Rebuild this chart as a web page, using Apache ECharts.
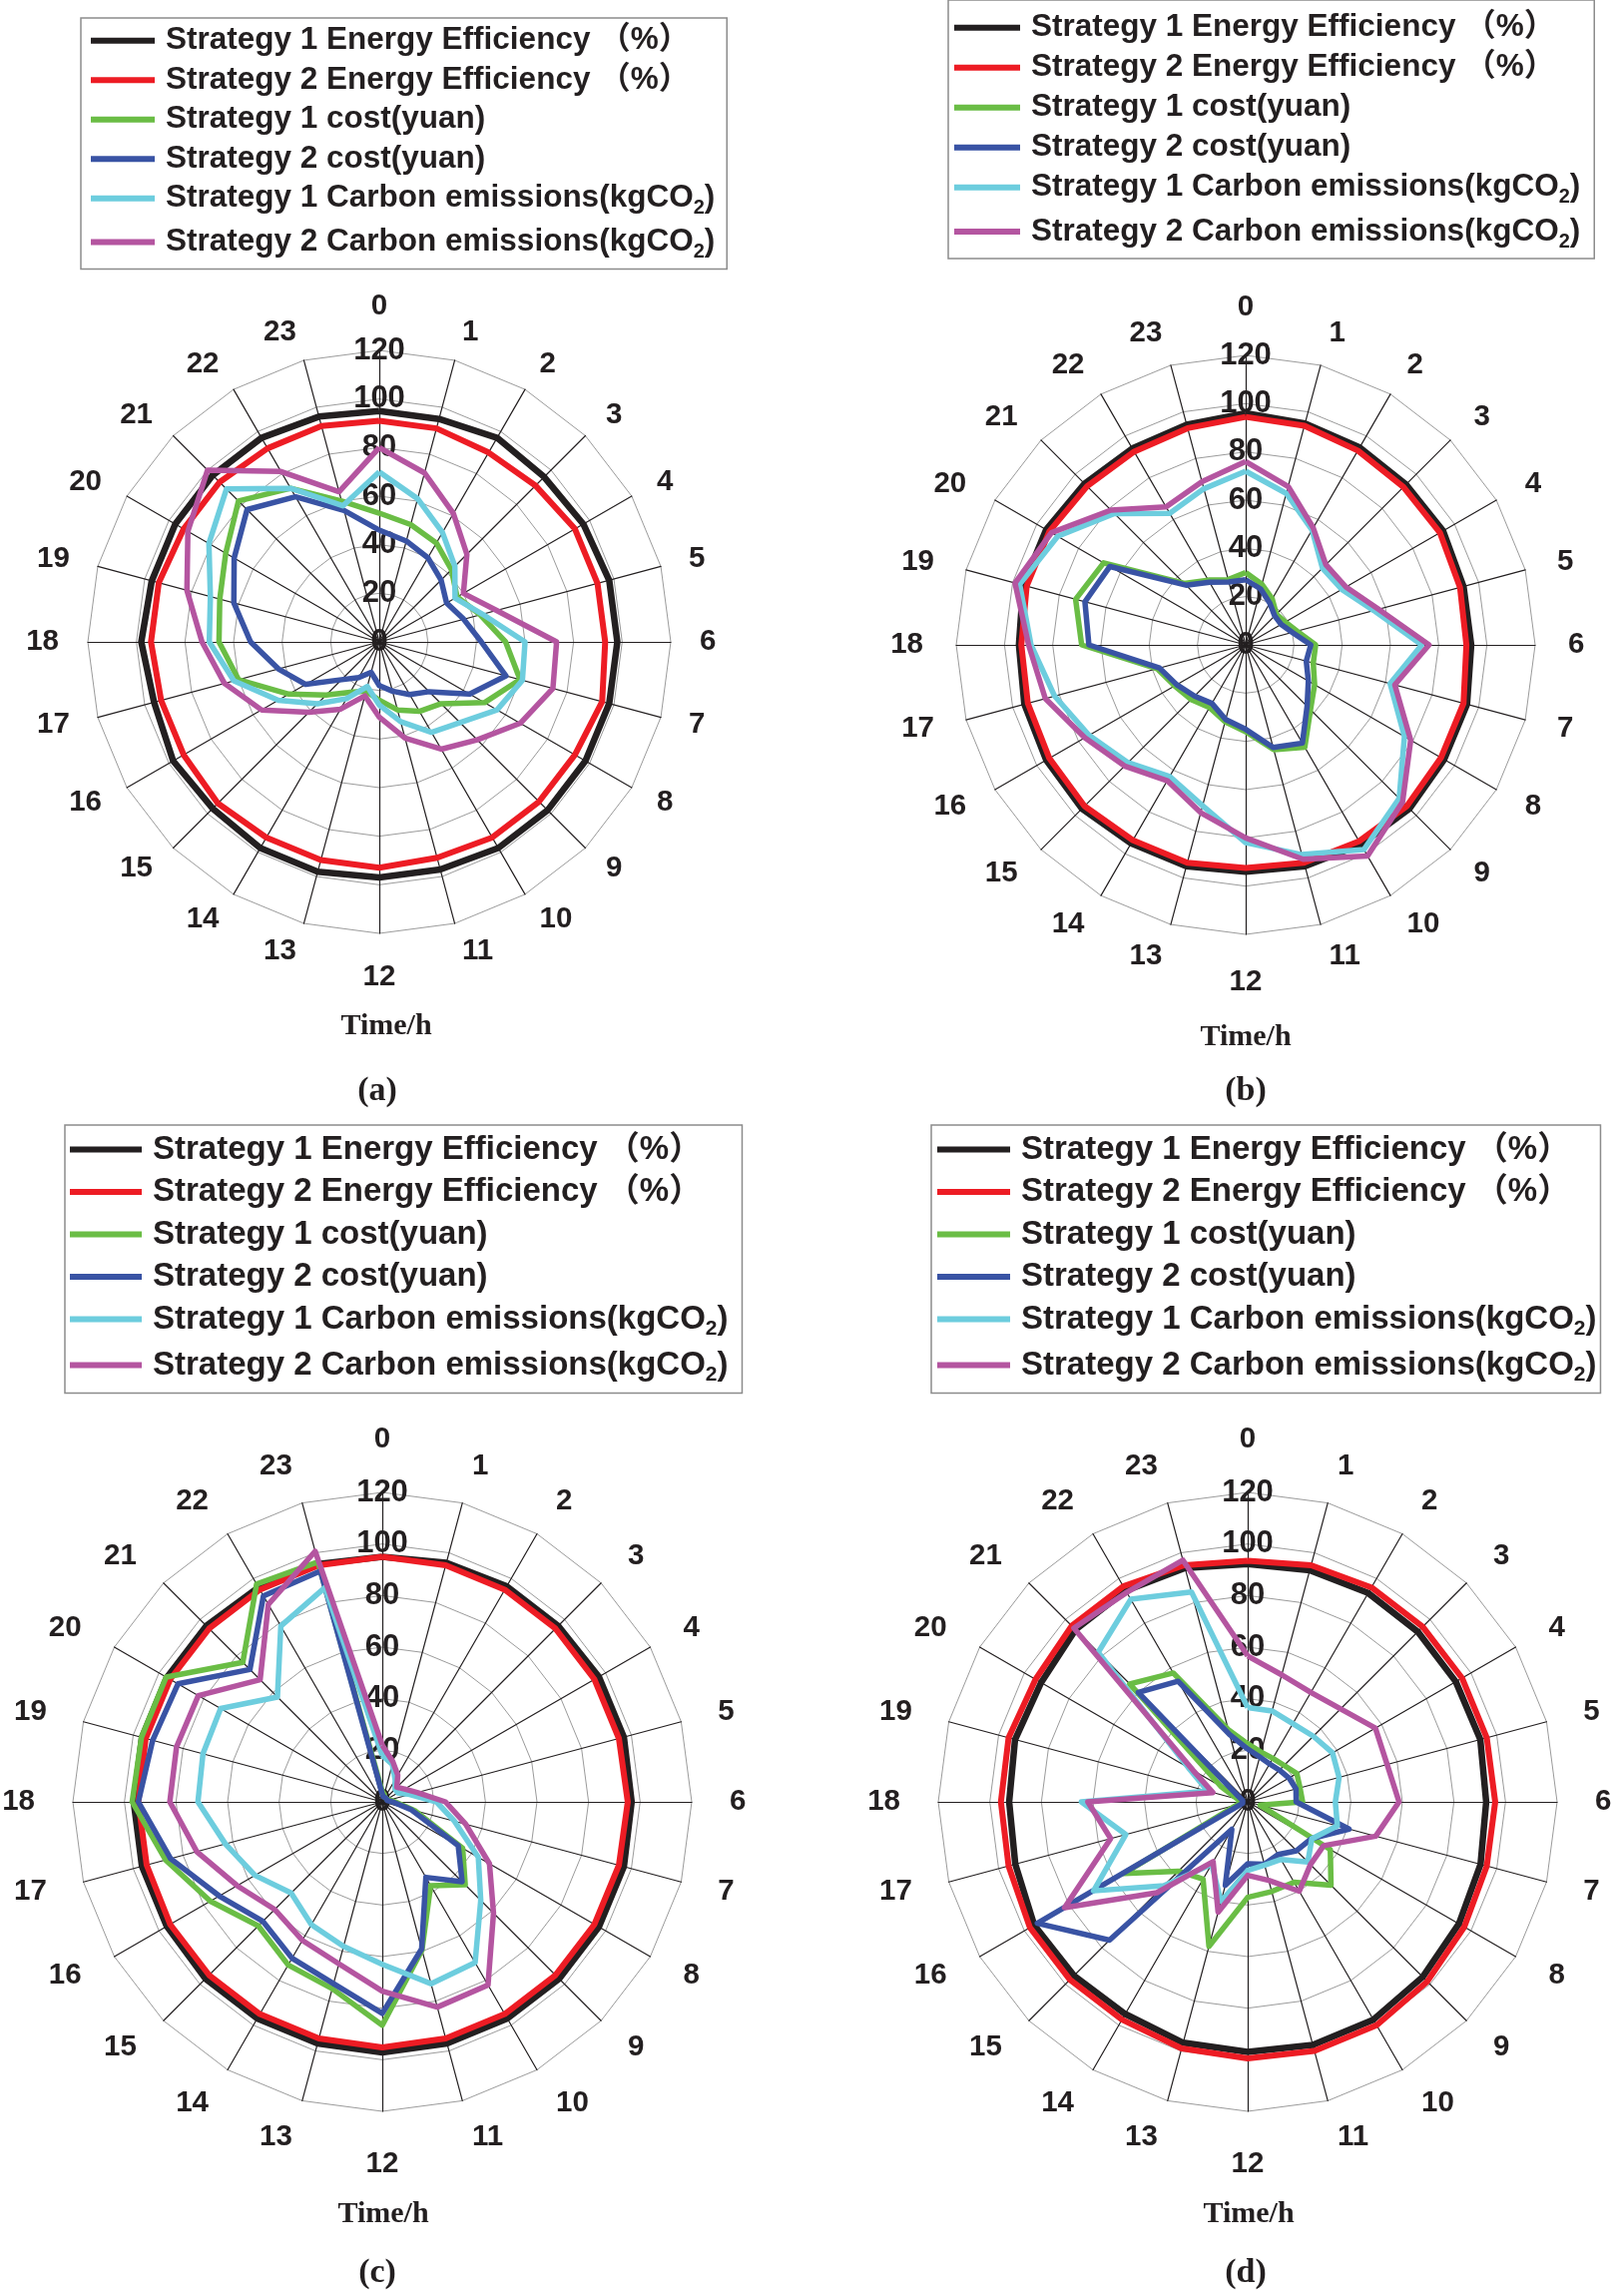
<!DOCTYPE html>
<html><head><meta charset="utf-8">
<script src="https://cdn.jsdelivr.net/npm/echarts@6/dist/echarts.min.js"></script>
<style>html,body{margin:0;padding:0;background:#fff}#c{width:1618px;height:2300px}</style>
</head><body><div id="c"></div>
<script>
// ---------- data ----------
const HOURS = ['0','1','2','3','4','5','6','7','8','9','10','11','12','13','14','15','16','17','18','19','20','21','22','23'];
const RADIAL_TICKS = [0, 20, 40, 60, 80, 100, 120];
const SERIES_NAMES = [
  'Strategy 1 Energy Efficiency （%）',
  'Strategy 2 Energy Efficiency （%）',
  'Strategy 1 cost(yuan)',
  'Strategy 2 cost(yuan)',
  'Strategy 1 Carbon emissions(kgCO2)',
  'Strategy 2 Carbon emissions(kgCO2)'
];
const PANEL_LABELS = ['(a)', '(b)', '(c)', '(d)'];
const AXIS_TITLE = 'Time/h';

// (a)
const a_eff1  = [95,95,97,96,97,98,98,98,98,98,98,97,97,98,98,97,98,96,98,97,97,97,97,96];
const a_eff2  = [91,91,90,91,93,93,93,95,93,93,93,92,93,93,93,94,93,93,94,94,93,93,92,92];
const a_cost1 = [53,50,47,42,37,43,52,60,50,36,33,29,24,21,24,31,43,60,66,68,73,82,73,60];
const a_cost2 = [46,43,40,36,32,36,42,54,43,29,25,21,18,13,17,22,35,43,53,62,69,77,69,56];
const a_carb1 = [70,61,52,44,36,44,60,61,56,47,43,34,26,19,27,36,48,62,70,72,81,89,73,58];
const a_carb2 = [80,72,61,51,40,50,73,74,67,57,51,41,31,23,32,41,56,66,73,82,91,100,81,64];
// (b)
const b_eff1  = [96,95,94.5,94,94.5,93.5,93.5,95,95,96,95.5,95,94,95,95,96,95.5,95,94,95.5,95.5,94.5,94,94.5];
const b_eff2  = [94.5,94,93,92.5,93,92,91.5,93.5,93.5,94.5,94,93.5,92.5,93.5,93.5,94.5,94,93.5,93,94,94,93,92.5,93];
const b_cost1 = [30,26,22,18,19,22,29,29,33,38,49,45,36,33,30,32,34,38,68,73,68,36,31,28];
const b_cost2 = [27,24,20,17,17,20,27,26,30,36,47,44,35,32,28,30,33,37,65,69,65,35,30,27];
const b_carb1 = [72,65,55,45,46,55,73,62,76,90,98,90,82,69,63,69,75,82,89,97,90,77,63,67];
const b_carb2 = [76,68,56,47,48,57,76,64,79,92,101,92,80,72,65,71,77,86,90,99,93,79,66,70];
// (c)
const c_eff1  = [95,96,96.5,96.5,97,97,96.7,97,97,97,97,97,97.2,97,97,97,96.5,96.5,96.4,96.5,96.5,96.5,96,95.5];
const c_eff2  = [95,95,95,95,95,95,95.2,95,95,95,95,95,95.2,95,95,95,95,94.6,94.6,95,95,95,95,95];
const c_cost1 = [4,3,2,2,2,3,5,13,36,45.5,37.5,59.5,86.6,75,73,68,77,87,97,96.7,96.8,76.5,97.5,96.3];
const c_cost2 = [3,2,2,2,2,2,4,11.5,34,43.8,33.8,59,82,73,70,65.5,73,85,94.6,92.2,91.5,72.6,92.2,92.7];
const c_carb1 = [18,15,10,7,7,11,21,29,43,54,72,73,63,58,55,50,57,63,71.5,72,72.4,57.5,78.7,86];
const c_carb2 = [22,16,12,8,10,14,24.5,33.5,48,61,82,82.4,73.4,65,62,59,65,74.5,82.4,82.6,82.4,67,88.4,100.6];
// (d)
const d_eff1  = [92.2,93,93.5,93.3,93.2,93.4,92.5,93.5,94.6,96,97.5,97.6,97,96.7,95,95.3,95.6,93.3,92.5,93.4,92.5,94.4,94.6,93.9];
const d_eff2  = [93.5,95,96,96,96,96,96,96,97,98.5,100,100,99.5,99,97.5,97.5,97.5,96,95.7,96,95,96.5,96.5,95];
const d_cost1 = [22.5,20,19.5,20,22,21,21.3,5,37,45.7,36,36,37,58,34.6,38,55.6,4,3,4,12,64.7,57.7,29];
const d_cost2 = [20.5,18,17,17.4,18.5,19.4,18.8,40.7,28.5,26.8,23.6,25,24,33.5,12.3,75.8,94.2,2,2,2,4,60,54,27];
const d_carb1 = [36.6,36.5,35,36,38,36.7,34,36,28.7,33,25.8,25.4,26.6,40,27.9,46,69,48.9,64.5,16,26.6,82,90.7,84.3];
const d_carb2 = [56.6,51,49,51,57.2,56,58.7,51.4,34,34.4,40,31.5,28.5,44.3,26.8,49.8,82,55,62,14,24.5,95.3,93.8,97];

const PANEL_DATA = [
  [a_eff1, a_eff2, a_cost1, a_cost2, a_carb1, a_carb2],
  [b_eff1, b_eff2, b_cost1, b_cost2, b_carb1, b_carb2],
  [c_eff1, c_eff2, c_cost1, c_cost2, c_carb1, c_carb2],
  [d_eff1, d_eff2, d_cost1, d_cost2, d_carb1, d_carb2]
];

// ---------- styles / layout ----------
const COLORS = ['#231f20', '#ed1c24', '#6abd45', '#3953a4', '#6dcdde', '#b455a0'];
const WIDTHS = [6.5, 6, 5.5, 5.5, 5.5, 5.5];
const SANS = '"Liberation Sans", Arial, "Noto Sans CJK SC", sans-serif';
const SERIF = '"Liberation Serif", "Times New Roman", serif';
const INK = '#231f20';

const LAYOUT = [
  { center: [380, 643], radius: 292, gap: 29, leg: { left: 81, top: 18, fs: 31.5, iw: 64, pad: [7, 12, 7, 10], gapY: 8 },
    title: [387, 1028], cap: [378, 1093] },
  { center: [1248, 646], radius: 290, gap: 33, leg: { left: 950, top: 0, fs: 31.5, iw: 66, pad: [12, 14, 7, 6], gapY: 8.5 },
    title: [1248, 1039], cap: [1248, 1093] },
  { center: [383, 1805], radius: 310, gap: 38, leg: { left: 65, top: 1127, fs: 33, iw: 72, pad: [8, 14, 8, 5], gapY: 9.5 },
    title: [384, 2218], cap: [378, 2277] },
  { center: [1250, 1805], radius: 310, gap: 38, leg: { left: 933, top: 1127, fs: 33, iw: 73, pad: [8, 4, 8, 6], gapY: 9.5 },
    title: [1251, 2218], cap: [1248, 2277] }
];

// indicators go counter-clockwise in radar, so list hours 0,23,22,...,1 to read clockwise
const ORDER = [0].concat(HOURS.slice(1).map((_, i) => 23 - i));

const radars = [], series = [], legends = [], graphics = [];
LAYOUT.forEach((L, p) => {
  radars.push({
    center: L.center,
    radius: L.radius,
    startAngle: 90,
    shape: 'polygon',
    splitNumber: RADIAL_TICKS.length - 1,
    axisNameGap: L.gap,
    axisName: { color: INK, fontFamily: SANS, fontWeight: 'bold', fontSize: 29.5 },
    axisLine: { lineStyle: { color: INK, width: 1.2 } },
    axisTick: { show: false },
    splitLine: { lineStyle: { color: '#9b9b9b', width: 1 } },
    splitArea: { show: false },
    axisLabel: { show: false, color: INK, fontFamily: SANS, fontWeight: 'bold', fontSize: 31,
                 margin: 0, align: 'center', verticalAlign: 'middle' },
    indicator: ORDER.map((h, i) => Object.assign(
      { name: HOURS[h], min: RADIAL_TICKS[0], max: RADIAL_TICKS[RADIAL_TICKS.length - 1] },
      i === 0 ? { axisLabel: { show: true } } : {}))
  });
  series.push({
    type: 'radar',
    radarIndex: p,
    symbol: 'none',
    silent: true,
    data: PANEL_DATA[p].map((arr, k) => ({
      name: SERIES_NAMES[k],
      value: ORDER.map(h => arr[h]),
      itemStyle: { color: COLORS[k] },
      lineStyle: { color: COLORS[k], width: WIDTHS[k] }
    }))
  });
  const G = L.leg;
  legends.push({
    orient: 'vertical',
    left: G.left, top: G.top,
    padding: G.pad,
    itemGap: G.gapY,
    itemWidth: G.iw, itemHeight: 6,
    icon: 'rect',
    selectedMode: false,
    borderColor: '#8c8c8c', borderWidth: 1.5,
    backgroundColor: '#fff',
    data: SERIES_NAMES.slice(),
    formatter: function (name) {
      if (name.indexOf('CO2)') >= 0) {
        const base = name.replace('CO2)', 'CO');
        return '{c|' + base + '}{s|2}{c|)}';
      }
      return '{t|' + name + '}';
    },
    textStyle: {
      padding: [0, 0, 0, 6],
      rich: {
        t: { fontFamily: SANS, fontWeight: 'bold', fontSize: G.fs, color: INK },
        c: { fontFamily: SANS, fontWeight: 'bold', fontSize: G.fs, color: INK, lineHeight: 40 },
        s: { fontFamily: SANS, fontWeight: 'bold', fontSize: Math.round(G.fs * 0.63), color: INK, lineHeight: 26, verticalAlign: 'bottom' }
      }
    }
  });
  graphics.push({
    type: 'text', x: L.title[0], y: L.title[1],
    style: { text: AXIS_TITLE, font: 'bold 30px ' + SERIF, fill: INK, textAlign: 'center', textVerticalAlign: 'middle' }
  });
  graphics.push({
    type: 'text', x: L.cap[0], y: L.cap[1],
    style: { text: PANEL_LABELS[p], font: 'bold 34px ' + SERIF, fill: INK, textAlign: 'center', textVerticalAlign: 'middle' }
  });
});

const chart = echarts.init(document.getElementById('c'), null, { renderer: 'canvas' });
chart.setOption({
  backgroundColor: '#fff',
  animation: false,
  radar: radars,
  series: series,
  legend: legends,
  graphic: graphics
});
</script>
</body></html>
